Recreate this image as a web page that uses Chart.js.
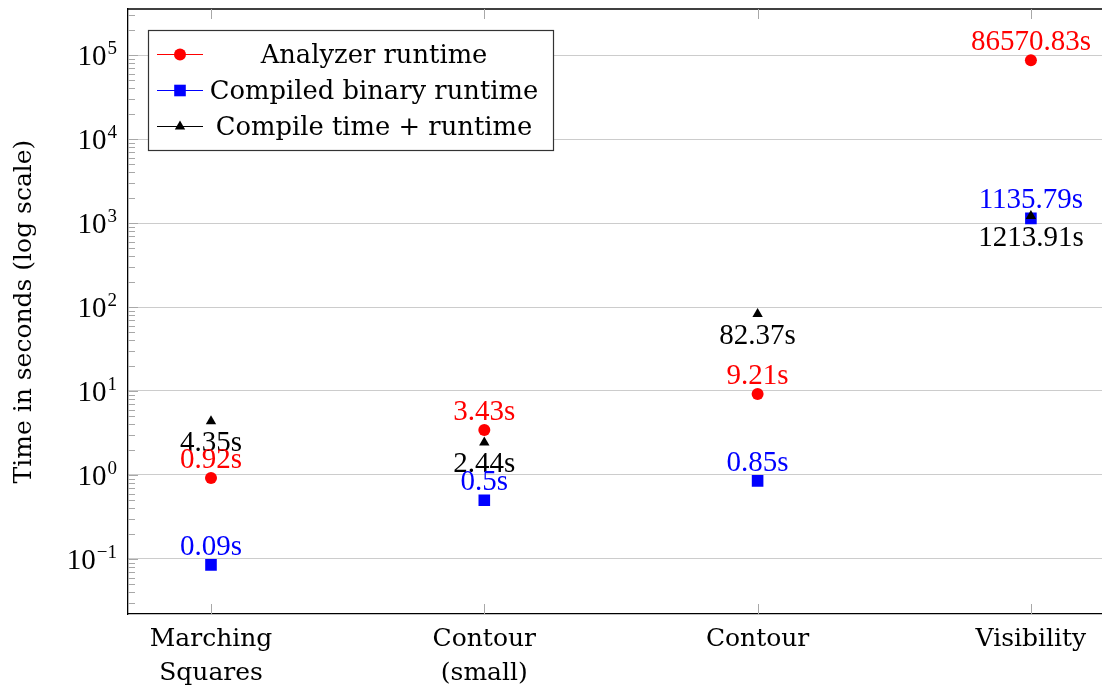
<!DOCTYPE html>
<html>
<head>
<meta charset="utf-8">
<script src="https://cdn.jsdelivr.net/npm/chart.js@4"></script>
<style>
  html, body { margin: 0; padding: 0; background: #fff; overflow: hidden; }
  #wrap { width: 1120px; height: 689px; position: relative; }
</style>
</head>
<body>
<div id="wrap"><canvas id="chart" width="1120" height="689"></canvas></div>
<script>
const categories = [["Marching", "Squares"], ["Contour", "(small)"], "Contour", "Visibility"];
const seriesNames = ["Analyzer runtime", "Compiled binary runtime", "Compile time + runtime"];
const analyzerRuntime = [0.92, 3.43, 9.21, 86570.83];
const compiledRuntime = [0.085, 0.5, 0.85, 1135.79];
const compilePlusRuntime = [4.35, 2.44, 82.37, 1213.91];
const yExponents = [-1, 0, 1, 2, 3, 4, 5];

const numFont = '29px "Liberation Serif"';
const textFont = '25px "DejaVu Serif"';
const legendFont = '25.8px "DejaVu Serif"';

function pts(values) {
  return values.map((v, i) => ({ x: i, y: v }));
}

function fmt(v) {
  return Number(v.toFixed(2)) + "s";
}

const styles = [
  { color: "#ff0000", marker: "circle", radius: 6, labelBelow: false },
  { color: "#0000ff", marker: "rect", radius: 8.2, labelBelow: false },
  { color: "#000000", marker: "triangle", radius: 6, labelBelow: true },
];

const overlay = {
  id: "overlay",
  afterDraw(chart) {
    const ctx = chart.ctx;
    const area = chart.chartArea;
    const xs = chart.scales.x;
    const ys = chart.scales.y;
    ctx.save();

    // top frame line
    ctx.strokeStyle = "#000";
    ctx.lineWidth = 1.3;
    ctx.beginPath();
    ctx.moveTo(area.left, area.top);
    ctx.lineTo(area.right, area.top);
    ctx.stroke();

    // x tick marks (inside, top and bottom)
    ctx.strokeStyle = "#a8a8a8";
    ctx.lineWidth = 1;
    categories.forEach((c, i) => {
      const px = Math.round(xs.getPixelForValue(i)) + 0.5;
      ctx.beginPath();
      ctx.moveTo(px, area.top);
      ctx.lineTo(px, area.top + 10);
      ctx.moveTo(px, area.bottom);
      ctx.lineTo(px, area.bottom - 10);
      ctx.stroke();
    });

    // minor y ticks
    for (let e = -2; e <= 5; e++) {
      for (let m = 2; m <= 9; m++) {
        const v = m * Math.pow(10, e);
        if (v < ys.min || v > ys.max) continue;
        const py = Math.round(ys.getPixelForValue(v)) + 0.5;
        ctx.beginPath();
        ctx.moveTo(area.left, py);
        ctx.lineTo(area.left + 7, py);
        ctx.stroke();
      }
    }
    // major y ticks
    yExponents.forEach((e) => {
      const py = Math.round(ys.getPixelForValue(Math.pow(10, e))) + 0.5;
      ctx.beginPath();
      ctx.moveTo(area.left, py);
      ctx.lineTo(area.left + 10, py);
      ctx.stroke();
    });

    // y tick labels 10^e
    ctx.fillStyle = "#000";
    ctx.textBaseline = "alphabetic";
    yExponents.forEach((e) => {
      const py = ys.getPixelForValue(Math.pow(10, e));
      const sup = e < 0 ? "\u2212" + Math.abs(e) : String(e);
      ctx.font = '19px "Liberation Serif"';
      const sw = ctx.measureText(sup).width;
      const right = area.left - 11;
      ctx.textAlign = "left";
      ctx.fillText(sup, right - sw, py - 1);
      ctx.font = numFont;
      ctx.textAlign = "right";
      ctx.fillText("10", right - sw - 1, py + 10);
    });

    // y title
    ctx.save();
    ctx.translate(24, (area.top + area.bottom) / 2);
    ctx.rotate(-Math.PI / 2);
    ctx.font = textFont;
    ctx.fillStyle = "#000";
    ctx.textAlign = "center";
    ctx.textBaseline = "middle";
    ctx.fillText("Time in seconds (log scale)", 0, 0);
    ctx.restore();

    // data labels
    ctx.font = numFont;
    ctx.textAlign = "center";
    ctx.textBaseline = "alphabetic";
    [2, 0, 1].forEach((d) => {
      const meta = chart.getDatasetMeta(d);
      const ds = chart.data.datasets[d];
      ctx.fillStyle = styles[d].color;
      meta.data.forEach((el, i) => {
        const v = ds.data[i].y;
        const ty = styles[d].labelBelow ? el.y + 30 : el.y - 10;
        ctx.fillText(fmt(v), el.x, ty);
      });
    });

    // legend
    const lx = 148.5, ly = 30.5, lw = 405, lh = 120;
    ctx.fillStyle = "#fff";
    ctx.fillRect(lx, ly, lw, lh);
    ctx.strokeStyle = "#333";
    ctx.lineWidth = 1.2;
    ctx.strokeRect(lx, ly, lw, lh);
    const rows = [54, 90, 126];
    seriesNames.forEach((name, i) => {
      const ry = rows[i];
      const st = styles[i];
      ctx.strokeStyle = st.color;
      ctx.lineWidth = 1;
      ctx.beginPath();
      ctx.moveTo(157, ry + 0.5);
      ctx.lineTo(203, ry + 0.5);
      ctx.stroke();
      ctx.fillStyle = st.color;
      Chart.helpers.drawPoint(ctx, {
        pointStyle: st.marker,
        radius: st.radius,
        rotation: 0,
        borderWidth: 0,
      }, 180, ry + 0.5);
      ctx.fillStyle = "#000";
      ctx.font = legendFont;
      ctx.textAlign = "center";
      ctx.textBaseline = "alphabetic";
      ctx.fillText(name, 374, ry + 9);
    });

    ctx.restore();
  },
};

const datasets = [analyzerRuntime, compiledRuntime, compilePlusRuntime].map((vals, d) => ({
  label: seriesNames[d],
  data: pts(vals),
  showLine: false,
  pointStyle: styles[d].marker,
  pointRadius: styles[d].radius,
  pointHoverRadius: styles[d].radius,
  pointBackgroundColor: styles[d].color,
  pointBorderColor: styles[d].color,
  pointBorderWidth: 0,
  order: 3 - d,
}));

new Chart(document.getElementById("chart"), {
  type: "scatter",
  data: { datasets },
  plugins: [overlay],
  options: {
    responsive: false,
    animation: false,
    devicePixelRatio: 1,
    layout: { padding: { left: 0, top: 9, right: 4, bottom: 0 } },
    plugins: { legend: { display: false }, tooltip: { enabled: false } },
    scales: {
      x: {
        type: "linear",
        min: -0.3037,
        max: 3.296,
        afterBuildTicks: (s) => { s.ticks = categories.map((c, i) => ({ value: i })); },
        afterFit: (s) => { s.height = 75; },
        ticks: {
          autoSkip: false,
          maxRotation: 0,
          padding: 8,
          color: "#000",
          font: { family: "DejaVu Serif", size: 25, lineHeight: 1.37 },
          callback: (v) => categories[v],
        },
        grid: { display: false, drawTicks: false },
        border: { display: true, color: "#000", width: 1.3 },
      },
      y: {
        type: "logarithmic",
        min: Math.pow(10, -1.655),
        max: Math.pow(10, 5.548),
        afterBuildTicks: (s) => { s.ticks = yExponents.map((e) => ({ value: Math.pow(10, e) })); },
        afterFit: (s) => { s.width = 128; },
        ticks: { display: false },
        grid: { color: "#cccccc", lineWidth: 1, drawTicks: false },
        border: { display: true, color: "#000", width: 1.3 },
      },
    },
  },
});
</script>
</body>
</html>
